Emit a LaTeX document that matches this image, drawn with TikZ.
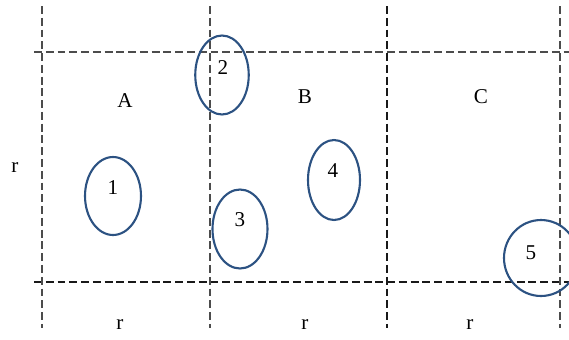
\documentclass[tikz,border=0pt]{standalone}
\usepackage{fontspec}
\setmainfont{Liberation Serif}
\usetikzlibrary{shapes.geometric}
\definecolor{ringblue}{RGB}{44,82,130}

\begin{document}
\begin{tikzpicture}[
        x=0.02cm, y=-0.02cm,
        font=\large,
        grid/.style={draw=black!70, line width=1pt, dash pattern=on 4.5pt off 2.2pt},
        gridd/.style={grid, draw=black!90},
        zone/.style={ellipse, draw=ringblue, line width=1.2pt, inner sep=0pt}
      ]
        \useasboundingbox (0,0) rectangle (569,339);
        \clip (0,0) rectangle (569,339);
        % column lines
        \def\cA{42} \def\cB{210} \def\cC{387} \def\cD{560}
        \def\rT{52} \def\rB{282}
        \coordinate (tl) at (34,\rT);  \coordinate (tr) at (569,\rT);
        \coordinate (bl) at (34,\rB);  \coordinate (br) at (569,\rB);
        \draw[grid] (tl) -- (tr);
        \draw[gridd] (bl) -- (br);
        \foreach \x in {\cA,\cB,\cD}{\draw[grid] (\x,6) -- (\x,328);}
        \draw[gridd] (\cC,6) -- (\cC,328);

        % cell names
        \node (A) at (125,101) {A};
        \node (B) at (305,97)  {B};
        \node (C) at (481,97)  {C};

        % sizes
        \node (rl) at (15,168)  {r};
        \node (r1) at (120,325) {r};
        \node (r2) at (305,325) {r};
        \node (r3) at (470,325) {r};

        % ellipses
        \node[zone, minimum width=1.12cm, minimum height=1.56cm] (e1) at (113,196) {};
        \node[zone, minimum width=1.07cm, minimum height=1.58cm] (e2) at (222,75)  {};
        \node[zone, minimum width=1.1cm, minimum height=1.58cm] (e3) at (240,229) {};
        \node[zone, minimum width=1.04cm, minimum height=1.6cm] (e4) at (334,180) {};
        \node[zone, minimum width=1.48cm, minimum height=1.52cm] (e5) at (541,258) {};

        \node (n1) at (113,188) {1};
        \node (n2) at (223,68)  {2};
        \node (n3) at (240,220) {3};
        \node (n4) at (333,171) {4};
        \node (n5) at (531,253) {5};
    \end{tikzpicture}
\end{document}
